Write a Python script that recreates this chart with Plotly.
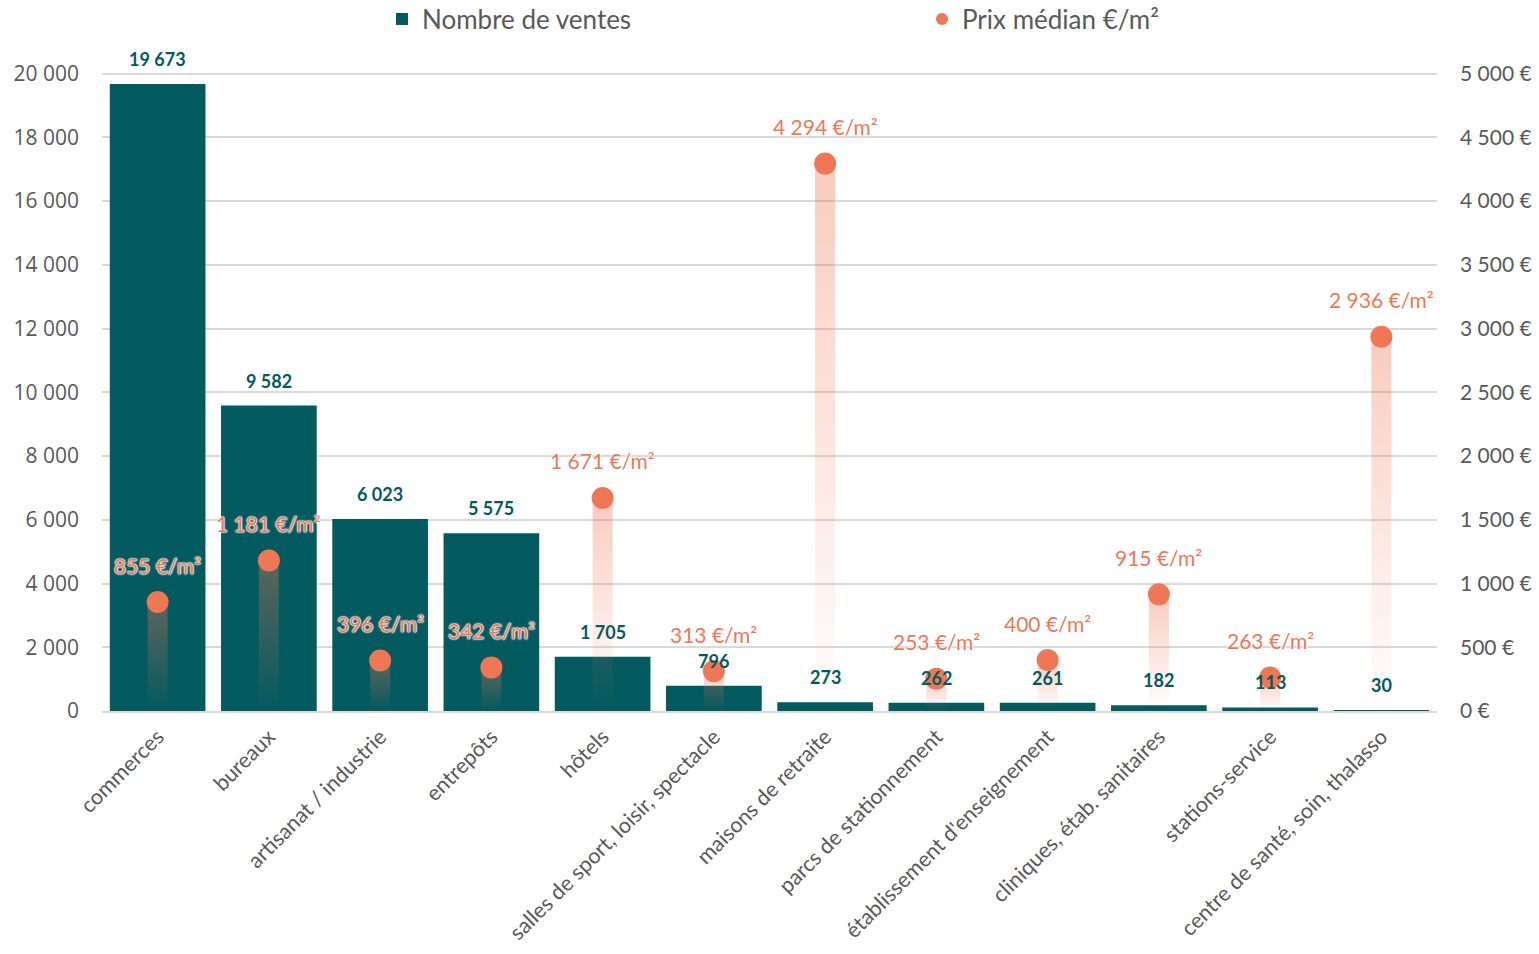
import plotly.graph_objects as go

categories = ["commerces", "bureaux", "artisanat / industrie", "entrepôts", "hôtels",
              "salles de sport, loisir, spectacle", "maisons de retraite",
              "parcs de stationnement", "établissement d'enseignement",
              "cliniques, étab. sanitaires", "stations-service",
              "centre de santé, soin, thalasso"]
ventes = [19673, 9582, 6023, 5575, 1705, 796, 273, 262, 261, 182, 113, 30]
prix = [855, 1181, 396, 342, 1671, 313, 4294, 253, 400, 915, 263, 2936]
left_ticks = [0, 2000, 4000, 6000, 8000, 10000, 12000, 14000, 16000, 18000, 20000]
right_ticks = [0, 500, 1000, 1500, 2000, 2500, 3000, 3500, 4000, 4500, 5000]

TEAL = "#035A5F"
ORANGE = "#EF7756"
GREY = "#595959"

def fmt(v):
    return f"{v:,}".replace(",", " ")

xs = list(range(len(categories)))

fig = go.Figure()
fig.add_trace(go.Bar(x=xs, y=ventes, width=0.86, marker=dict(color=TEAL, line=dict(width=0)),
                     name="Nombre de ventes", yaxis="y"))

hw = 0.09
for i, p in zip(xs, prix):
    fig.add_trace(go.Scatter(
        x=[i - hw, i + hw, i + hw, i - hw, i - hw], y=[0, 0, p, p, 0], yaxis="y2",
        mode="lines", line=dict(width=0), fill="toself",
        fillgradient=dict(type="vertical",
                          colorscale=[[0, "rgba(239,119,86,0.0)"], [1, "rgba(239,119,86,0.38)"]]),
        showlegend=False, hoverinfo="skip"))

fig.add_trace(go.Scatter(x=xs, y=prix, yaxis="y2", mode="markers",
                         marker=dict(color=ORANGE, size=22, line=dict(width=0)),
                         name="Prix médian €/m²"))

annotations = []
for i, v in zip(xs, ventes):
    annotations.append(dict(x=i, y=v, xref="x", yref="y", text=f"<b>{fmt(v)}</b>",
                            showarrow=False, yshift=25,
                            font=dict(family="Lato", size=18, color=TEAL)))
for i, p in zip(xs, prix):
    annotations.append(dict(x=i, y=p, xref="x", yref="y2", text=f"{fmt(p)} €/m²",
                            showarrow=False, yshift=37,
                            font=dict(family="Lato", size=21, color=ORANGE,
                                      shadow="0 0 2px white, 0 0 2px white, 0 0 2px white, 0 0 1px white")))

fig.update_layout(
    width=1539, height=954,
    margin=dict(l=102, r=102, t=72, b=243, autoexpand=False),
    paper_bgcolor="white", plot_bgcolor="white",
    bargap=0.14,
    showlegend=True,
    legend=dict(orientation="h", x=382 / 1539, xanchor="left", xref="container",
                y=1 - 19 / 954, yanchor="middle", yref="container",
                font=dict(family="Lato", size=26, color=GREY), entrywidth=495,
                itemsizing="constant", bgcolor="rgba(0,0,0,0)"),
    xaxis=dict(range=[-0.5, len(categories) - 0.5], tickmode="array", tickvals=xs,
               ticktext=categories, tickangle=-45, showgrid=False, zeroline=False,
               showline=True, linecolor="#D9D9D9", linewidth=1.5, ticks="",
               tickfont=dict(family="Lato", size=21.5, color=GREY), ticklabelstandoff=3),
    yaxis=dict(range=[0, 20050], tickmode="array", tickvals=left_ticks,
               ticktext=[fmt(t) for t in left_ticks], showgrid=True, gridcolor="#D9D9D9",
               gridwidth=1.5, zeroline=False, showline=False, ticks="",
               tickfont=dict(family="Open Sans", size=21, color=GREY), ticklabelstandoff=22),
    yaxis2=dict(range=[0, 5012.5], overlaying="y", side="right", tickmode="array",
                tickvals=right_ticks, ticktext=[f"{fmt(t)} €" for t in right_ticks],
                showgrid=False, zeroline=False, showline=False, ticks="",
                tickfont=dict(family="Lato", size=21, color=GREY), ticklabelstandoff=22),
    annotations=annotations,
)

fig.write_html("out.html", config={"displayModeBar": False},
               post_script="document.body.style.margin='0px';")
